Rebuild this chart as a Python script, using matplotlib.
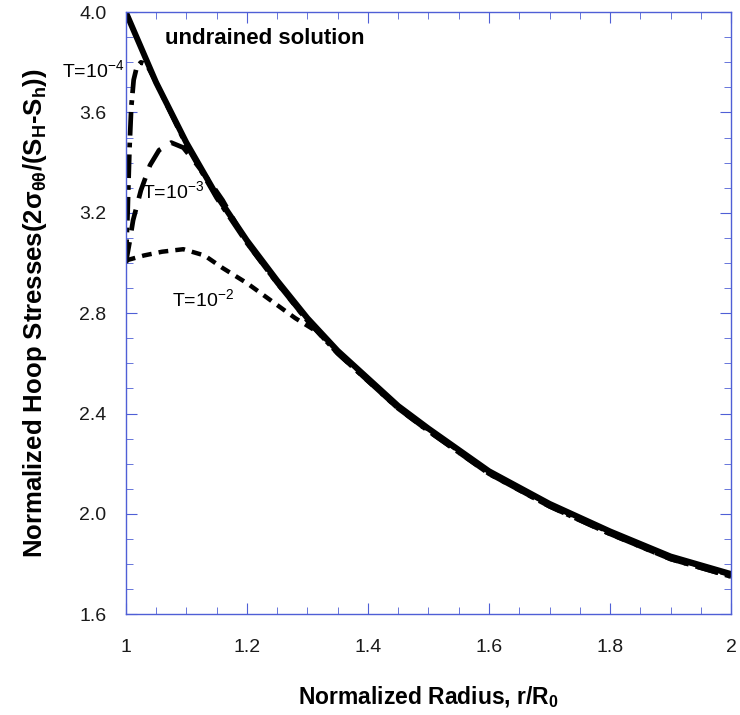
import matplotlib
matplotlib.use("Agg")
import matplotlib.pyplot as plt
from matplotlib.ticker import MultipleLocator

plt.rcParams['font.family'] = ['Liberation Sans', 'DejaVu Sans']
plt.rcParams['mathtext.default'] = 'regular'

# undrained solution
r_und = [1.00, 1.05, 1.10, 1.15, 1.20, 1.25, 1.30, 1.35, 1.40, 1.45, 1.50,
         1.60, 1.70, 1.80, 1.90, 2.00]
s_und = [4.00, 3.72, 3.48, 3.27, 3.09, 2.93, 2.78, 2.65, 2.54, 2.43, 2.34,
         2.17, 2.04, 1.93, 1.83, 1.76]

# T = 1e-4
r_t4 = [1.000, 1.003, 1.006, 1.009, 1.013, 1.018, 1.025, 1.035, 1.05, 1.10,
        1.15, 1.20, 1.25, 1.30, 1.35, 1.40, 1.45, 1.50, 1.60, 1.70, 1.80, 1.90, 2.00]
s_t4 = [3.00, 3.20, 3.45, 3.62, 3.73, 3.78, 3.80, 3.79, 3.72, 3.47,
        3.26, 3.08, 2.92, 2.77, 2.64, 2.53, 2.42, 2.33, 2.16, 2.03, 1.92, 1.82, 1.75]

# T = 1e-3
r_t3 = [1.000, 1.006, 1.012, 1.025, 1.040, 1.055, 1.075, 1.095, 1.115, 1.14,
        1.16, 1.20, 1.25, 1.30, 1.35, 1.40, 1.45, 1.50, 1.60, 1.70, 1.80, 1.90, 2.00]
s_t3 = [3.00, 3.08, 3.17, 3.29, 3.39, 3.45, 3.48, 3.46, 3.40, 3.32,
        3.25, 3.08, 2.92, 2.77, 2.64, 2.53, 2.42, 2.33, 2.16, 2.03, 1.92, 1.82, 1.75]

# T = 1e-2
r_t2 = [1.000, 1.03, 1.06, 1.095, 1.13, 1.16, 1.20, 1.24, 1.28, 1.32, 1.35,
        1.40, 1.45, 1.50, 1.60, 1.70, 1.80, 1.90, 2.00]
s_t2 = [3.01, 3.03, 3.045, 3.055, 3.03, 2.98, 2.92, 2.85, 2.78, 2.72, 2.65,
        2.535, 2.425, 2.335, 2.165, 2.035, 1.925, 1.825, 1.755]

blue = '#4f5fd6'

fig = plt.figure(figsize=(7.4, 7.15), dpi=100)
ax = fig.add_axes([0.170, 0.141, 0.818, 0.842])

ax.plot(r_t2, s_t2, color='black', lw=3.2, linestyle=(0, (2.2, 1.6)))
ax.plot(r_t3, s_t3, color='black', lw=3.4, linestyle=(0, (4.5, 2.5)))
ax.plot(r_t4, s_t4, color='black', lw=3.4, linestyle=(0, (5, 1.5, 1, 1.5)))
ax.plot(r_und, s_und, color='black', lw=4.3)

ax.set_xlim(1, 2)
ax.set_ylim(1.6, 4.0)
ax.xaxis.set_minor_locator(MultipleLocator(0.05))
ax.yaxis.set_minor_locator(MultipleLocator(0.1))
ax.set_xticks([1, 1.2, 1.4, 1.6, 1.8, 2])
ax.set_xticklabels(['1', '1.2', '1.4', '1.6', '1.8', '2'])
ax.set_yticks([1.6, 2.0, 2.4, 2.8, 3.2, 3.6, 4.0])
ax.set_yticklabels(['1.6', '2.0', '2.4', '2.8', '3.2', '3.6', '4.0'])

for s in ax.spines.values():
    s.set_color(blue)
    s.set_linewidth(1.0)
ax.tick_params(which='both', direction='in', top=True, right=True,
               color=blue, labelsize=14, labelcolor='#1a1a1a')
ax.tick_params(which='major', length=8)
ax.tick_params(axis='x', which='major', pad=18)
ax.tick_params(axis='y', which='major', pad=14)
ax.tick_params(which='minor', length=5)

ax.set_xlabel('Normalized Radius, r/R$_0$', fontsize=16.5, fontweight='bold',
              labelpad=20)
ax.set_ylabel('Normalized Hoop Stresses(2$\\sigma_{\\theta\\theta}$/(S$_H$-S$_h$))',
              fontsize=18.5, fontweight='bold', labelpad=22)

ax.text(1.064, 3.895, 'undrained solution', fontsize=16, fontweight='bold',
        va='center', ha='left')
ax.text(0.894, 3.77, 'T=10$^{-4}$', fontsize=14, va='center', ha='left',
        clip_on=False)
ax.text(1.026, 3.285, 'T=10$^{-3}$', fontsize=14, va='center', ha='left')
ax.text(1.076, 2.855, 'T=10$^{-2}$', fontsize=14, va='center', ha='left')

fig.savefig('out.png', dpi=100)
